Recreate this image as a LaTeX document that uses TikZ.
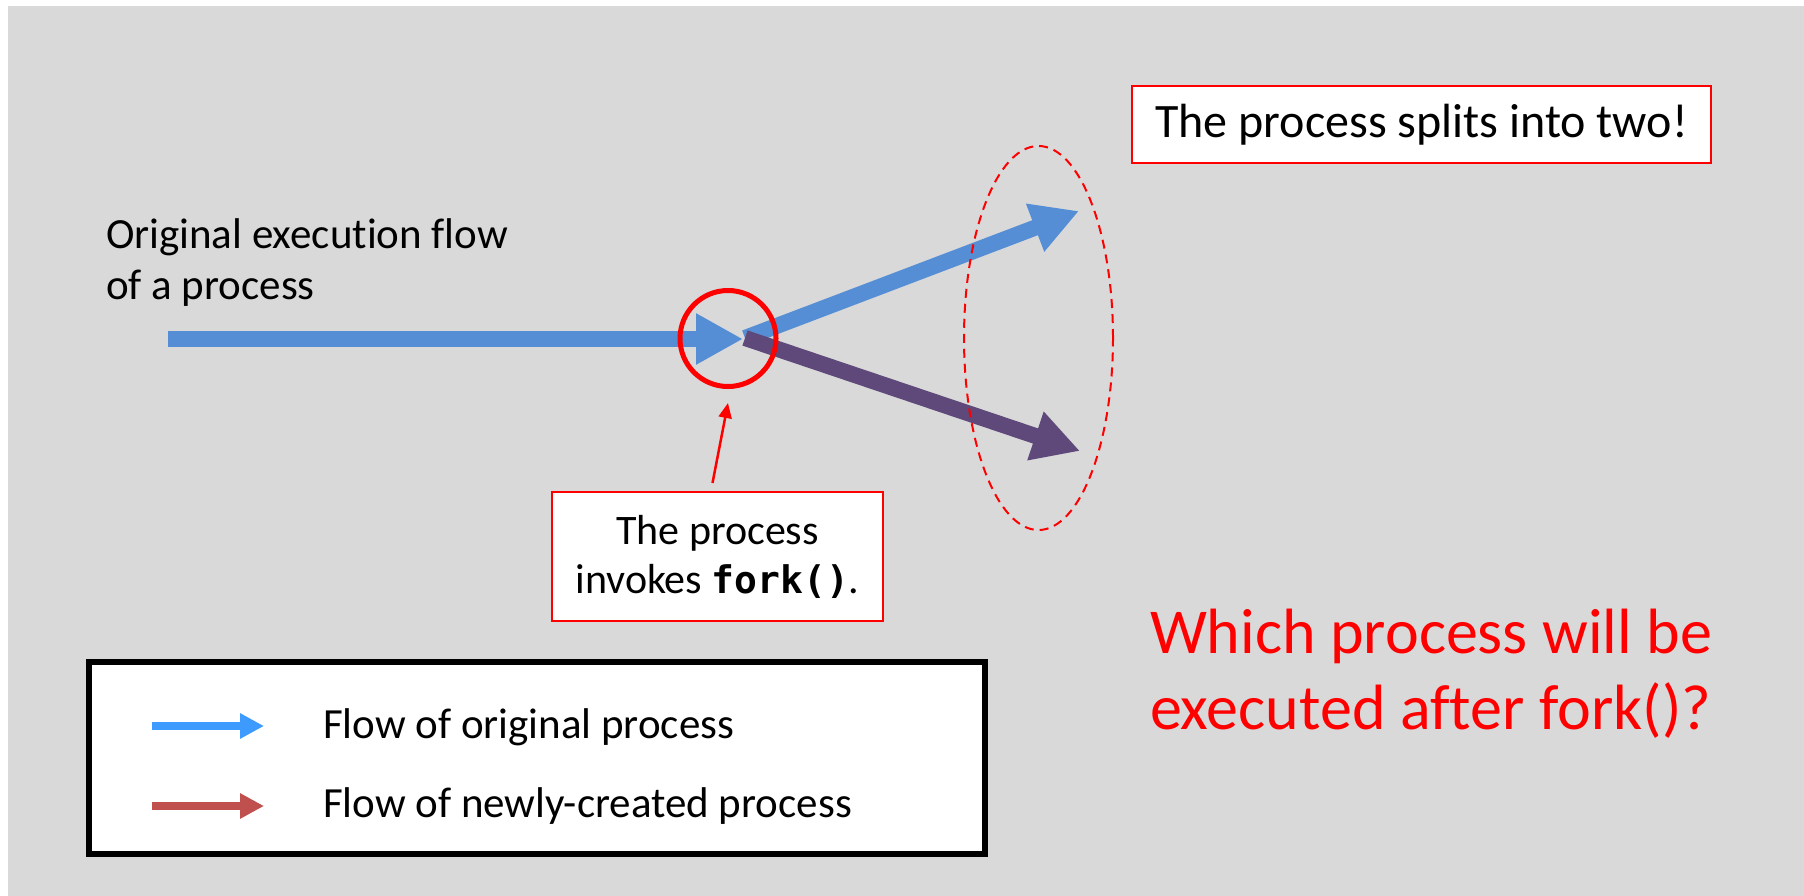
\documentclass[tikz,border=0pt]{standalone}
\usepackage{fontspec}
\setmainfont{Carlito}[Ligatures=NoCommon]
\newfontfamily\codefont{DejaVu Sans Mono}
\usetikzlibrary{arrows.meta,shapes.geometric}

\definecolor{slideGray}{HTML}{D9D9D9}
\definecolor{flowBlue}{HTML}{558ED5}
\definecolor{flowPurple}{HTML}{5F497A}
\definecolor{keyBlue}{HTML}{3D9BFF}
\definecolor{keyRed}{HTML}{C0504D}
\definecolor{alertRed}{HTML}{FF0000}

\begin{document}
\begin{tikzpicture}[x=1pt,y=-1pt,
  body/.style={inner sep=0pt,outer sep=0pt,font=\fontsize{43}{51}\selectfont},
  flow/.style={line width=16pt,-{Triangle[length=47pt,width=48pt]}},
  keyarrow/.style={line width=8pt,-{Triangle[length=24pt,width=24pt]}},
  notebox/.style={draw=alertRed,line width=2pt,fill=white,inner sep=0pt,outer sep=0pt,
    align=center,font=\fontsize{42}{49}\selectfont},
  pointer/.style={draw=alertRed,line width=2.5pt,-{Triangle[length=15pt,width=13pt]}}]

% canvas
\useasboundingbox (0,0) rectangle (1804,896);
\fill[white] (0,0) rectangle (1804,896);
\fill[slideGray] (8,6) rectangle (1804,896);

% flow of execution
\coordinate (origin) at (168,339);
\coordinate (forkpt) at (743,339);
\coordinate (split) at (745,338);
\coordinate (parentEnd) at (1079,211);
\coordinate (childEnd) at (1080,451);

\draw[flow,draw=flowBlue,fill=flowBlue] (origin) -- (forkpt);
\draw[flow,draw=flowBlue,fill=flowBlue] (split) -- (parentEnd);
\draw[flow,draw=flowPurple,fill=flowPurple] (split) -- (childEnd);

% multi-line labels are placed by the baseline of their last line
\node[body,anchor=base west,align=left] (origLabel) at (106,299)
  {Original execution flow\\of a process};

% the two resulting flows
\node[ellipse,draw=alertRed,line width=2pt,dash pattern=on 9pt off 6pt,
  minimum width=149pt,minimum height=384pt,inner sep=0pt] (pair) at (1038.5,338) {};

% fork point
\node[circle,draw=alertRed,line width=5pt,minimum size=96pt,inner sep=0pt,outer sep=0pt]
  (ring) at (728,338.5) {};

\node[notebox,minimum width=331pt,minimum height=129pt] (invoke) at (717.5,556.5)
  {The process\\invokes {\codefont\bfseries\fontsize{38}{49}\selectfont fork()}.};
\draw[pointer] ([xshift=-5pt,yshift=9pt]invoke.north) -- ([yshift=-16.5pt]ring.south);

\node[notebox,font=\fontsize{48}{56}\selectfont,minimum width=579pt,minimum height=77pt]
  (splits) at (1421.5,124.5) {The process splits into two!};

% question
\node[inner sep=0pt,outer sep=0pt,anchor=base west,align=left,text=alertRed,
  font=\fontsize{64}{76}\selectfont] (question) at (1150,729)
  {Which process will be\\executed after fork()?};

% legend
\node[draw=black,line width=6pt,fill=white,minimum width=896pt,minimum height=192pt,
  inner sep=0pt] (legend) at (537,758) {};
\coordinate (keyA1) at (152,726);
\coordinate (keyA2) at (264,726);
\coordinate (keyB1) at (152,806);
\coordinate (keyB2) at (264,806);
\draw[keyarrow,draw=keyBlue,fill=keyBlue] (keyA1) -- (keyA2);
\draw[keyarrow,draw=keyRed,fill=keyRed] (keyB1) -- (keyB2);
\node[body,anchor=base west] (keyAText) at (323,738) {Flow of original process};
\node[body,anchor=base west] (keyBText) at (323,817) {Flow of newly-created process};
\end{tikzpicture}
\end{document}
